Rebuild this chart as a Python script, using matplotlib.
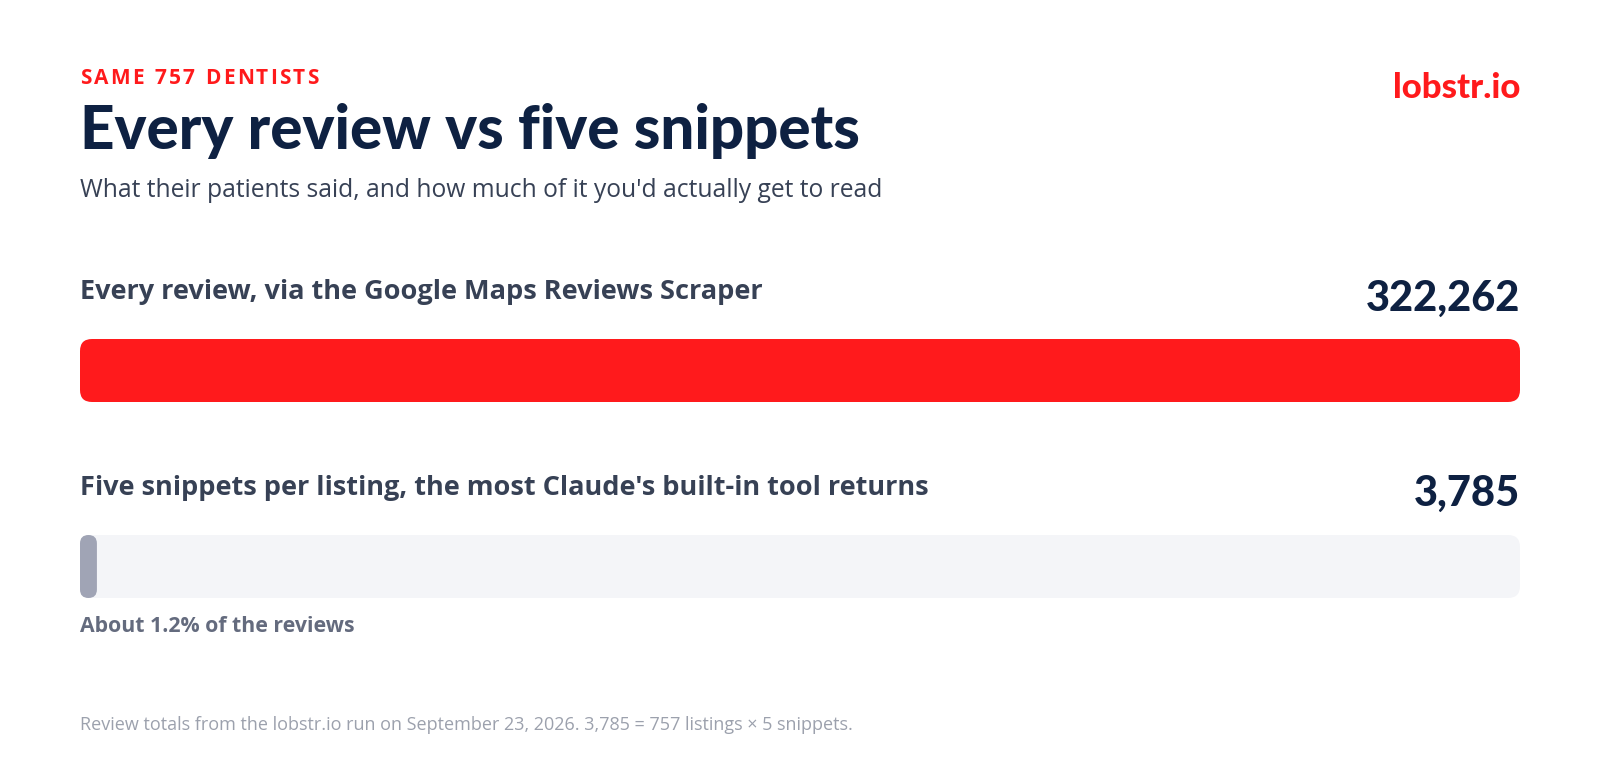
import matplotlib
matplotlib.use("Agg")
import matplotlib.pyplot as plt
from matplotlib.patches import FancyBboxPatch

# data
labels = ["Every review, via the Google Maps Reviews Scraper",
          "Five snippets per listing, the most Claude's built-in tool returns"]
values = [322262, 3785]
value_text = ["322,262", "3,785"]
share_note = "About 1.2% of the reviews"

W, H = 1600, 780
RED = "#ff1a1c"
NAVY = "#0e2142"
SLATE = "#374155"
GREY_BAR = "#a0a4b5"
TRACK = "#f4f5f8"

plt.rcParams['font.family'] = ['Open Sans', 'DejaVu Sans']
HEAVY = ['Lato', 'DejaVu Sans']

fig = plt.figure(figsize=(16, 7.8), dpi=100, facecolor="white")
renderer = fig.canvas.get_renderer()


def put(x, y, s, **kw):
    # x, y in pixels from top-left, y is the text baseline
    kw.setdefault("va", "baseline")
    return fig.text(x / W, 1 - y / H, s, **kw)


def put_spaced(x, y, s, spacing, **kw):
    # letter-spaced text, one glyph at a time
    for ch in s:
        t = put(x, y, ch, **kw)
        if ch == " ":
            x += 0.3 * kw.get("fontsize", 12) * 100 / 72
        else:
            x += t.get_window_extent(renderer).width
        x += spacing


# header
put_spaced(80, 84, "SAME 757 DENTISTS", 2.2, fontsize=15, fontweight="bold", color=RED)
put(80, 149, "Every review vs five snippets", fontsize=43.3, fontweight="black",
    color=NAVY, family=HEAVY)
put(80, 197, "What their patients said, and how much of it you'd actually get to read",
    fontsize=17.7, color=SLATE)
put(1520, 98, "lobstr.io", fontsize=25, fontweight="black", color=RED,
    ha="right", family=HEAVY)

# bars
left, right = 80, 1520
bar_tops = [339, 535]
bar_h = 63
label_y = [299, 495]
value_y = [311, 506]
vmax = values[0]
radius_px = 12

for i, (lab, val, vt) in enumerate(zip(labels, values, value_text)):
    top = bar_tops[i]
    ax = fig.add_axes([left / W, 1 - (top + bar_h) / H, (right - left) / W, bar_h / H])
    ax.set_xlim(0, vmax)
    ax.set_ylim(0, 1)
    ax.axis("off")
    ux = vmax / (right - left)   # data units per pixel (x)
    uy = 1 / bar_h               # data units per pixel (y)
    aspect = uy / ux
    if i > 0:
        # background track
        ax.add_patch(FancyBboxPatch((0, 0), vmax, 1,
                                    boxstyle=f"round,pad=0,rounding_size={radius_px * ux}",
                                    mutation_aspect=aspect, fc=TRACK, ec="none"))
    w_px = val / ux
    r = min(radius_px, w_px / 2)
    color = RED if i == 0 else GREY_BAR
    ax.add_patch(FancyBboxPatch((0, 0), val, 1,
                                boxstyle=f"round,pad=0,rounding_size={r * ux}",
                                mutation_aspect=aspect, fc=color, ec="none"))

    put(left, label_y[i], lab, fontsize=19.5, fontweight="bold", color=SLATE)
    put(right, value_y[i], vt, fontsize=30, fontweight="black", color=NAVY,
        ha="right", family=HEAVY)

put(80, 632, share_note, fontsize=15.3, fontweight="bold", color="#646b7e")
put(80, 730, "Review totals from the lobstr.io run on September 23, 2026. 3,785 = 757 listings \u00d7 5 snippets.",
    fontsize=13, color="#9ca1ad")

fig.savefig("out.png", dpi=100, facecolor="white")
